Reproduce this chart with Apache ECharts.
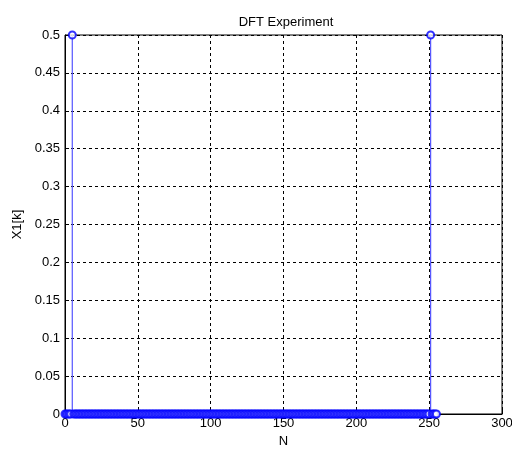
<!DOCTYPE html>
<html>
<head>
<meta charset="utf-8">
<script src="https://cdn.jsdelivr.net/npm/echarts@6/dist/echarts.min.js"></script>
<style>html,body{margin:0;padding:0;background:#fff}#c{width:512px;height:450px}</style>
</head>
<body>
<div id="c"></div>
<script>
// k = 0..255
var values = [
0,0,0,0,0,0.5,0,0,0,0,0,0,0,0,0,0,
0,0,0,0,0,0,0,0,0,0,0,0,0,0,0,0,
0,0,0,0,0,0,0,0,0,0,0,0,0,0,0,0,
0,0,0,0,0,0,0,0,0,0,0,0,0,0,0,0,
0,0,0,0,0,0,0,0,0,0,0,0,0,0,0,0,
0,0,0,0,0,0,0,0,0,0,0,0,0,0,0,0,
0,0,0,0,0,0,0,0,0,0,0,0,0,0,0,0,
0,0,0,0,0,0,0,0,0,0,0,0,0,0,0,0,
0,0,0,0,0,0,0,0,0,0,0,0,0,0,0,0,
0,0,0,0,0,0,0,0,0,0,0,0,0,0,0,0,
0,0,0,0,0,0,0,0,0,0,0,0,0,0,0,0,
0,0,0,0,0,0,0,0,0,0,0,0,0,0,0,0,
0,0,0,0,0,0,0,0,0,0,0,0,0,0,0,0,
0,0,0,0,0,0,0,0,0,0,0,0,0,0,0,0,
0,0,0,0,0,0,0,0,0,0,0,0,0,0,0,0,
0,0,0,0,0,0,0,0,0,0,0,0.5,0,0,0,0
];
var startK = 0;
var xTicks = [0, 50, 100, 150, 200, 250, 300];
var yTicks = [0, 0.05, 0.1, 0.15, 0.2, 0.25, 0.3, 0.35, 0.4, 0.45, 0.5];

var pts = values.map(function (v, i) { return [startK + i, v]; });
var font = 'Liberation Sans, Arial, sans-serif';
var chart = echarts.init(document.getElementById('c'));
chart.setOption({
  backgroundColor: '#fff',
  animation: false,
  title: {
    text: 'DFT Experiment', left: 281, top: 11, textAlign: 'center',
    textStyle: { fontSize: 13, fontWeight: 'normal', color: '#000', fontFamily: font }
  },
  grid: { left: 65, right: 10, top: 35, bottom: 36, show: true, borderColor: '#000', borderWidth: 1, backgroundColor: '#fff',
    containLabel: false, outerBoundsMode: 'none' },
  xAxis: {
    type: 'value', min: xTicks[0], max: xTicks[xTicks.length - 1], interval: 50,
    name: 'N', nameLocation: 'middle', nameGap: 17,
    nameTextStyle: { fontSize: 13, color: '#000', fontFamily: font },
    axisLine: { show: true, onZero: false, lineStyle: { color: '#000' } },
    axisTick: { show: true, inside: true, length: 4, lineStyle: { color: '#000' } },
    axisLabel: { color: '#000', fontSize: 13, fontFamily: font, margin: 3 },
    splitLine: { show: true, lineStyle: { color: '#000', type: [3, 3], width: 1 } }
  },
  yAxis: {
    type: 'value', min: yTicks[0], max: yTicks[yTicks.length - 1], interval: 0.05,
    name: 'X1[k]', nameLocation: 'middle', nameGap: 39, nameRotate: 90,
    nameTextStyle: { fontSize: 13, color: '#000', fontFamily: font },
    axisLine: { show: true, lineStyle: { color: '#000' } },
    axisTick: { show: true, inside: true, length: 4, lineStyle: { color: '#000' } },
    axisLabel: { color: '#000', fontSize: 13, fontFamily: font, margin: 5,
      formatter: function (v) { return String(Math.round(v * 100) / 100); } },
    splitLine: { show: true, lineStyle: { color: '#000', type: [3, 3], width: 1 } }
  },
  series: [
    {
      type: 'custom',
      data: pts,
      renderItem: function (params, api) {
        var x = api.value(0), y = api.value(1);
        var p0 = api.coord([x, 0]);
        var p1 = api.coord([x, y]);
        var k0 = api.coord([startK, 0]);
        var k1 = api.coord([startK + values.length - 1, 0]);
        var children = [{
          type: 'line',
          shape: { x1: p0[0], y1: p0[1], x2: p1[0], y2: p1[1] },
          style: { stroke: '#5555ff', lineWidth: 1.2 }
        }];
        if (params.dataIndex === 0) {
          children.push({
            type: 'line', z2: -1,
            shape: { x1: k0[0], y1: k0[1], x2: k1[0], y2: k1[1] },
            style: { stroke: '#000', lineWidth: 1 }
          });
        }
        return { type: 'group', children: children };
      },
      z: 2
    },
    {
      type: 'scatter',
      data: pts,
      symbol: 'emptyCircle',
      symbolSize: 7,
      itemStyle: { color: '#0000ff', borderColor: '#0000ff', borderWidth: 1 },
      z: 3
    }
  ]
});
</script>
</body>
</html>
